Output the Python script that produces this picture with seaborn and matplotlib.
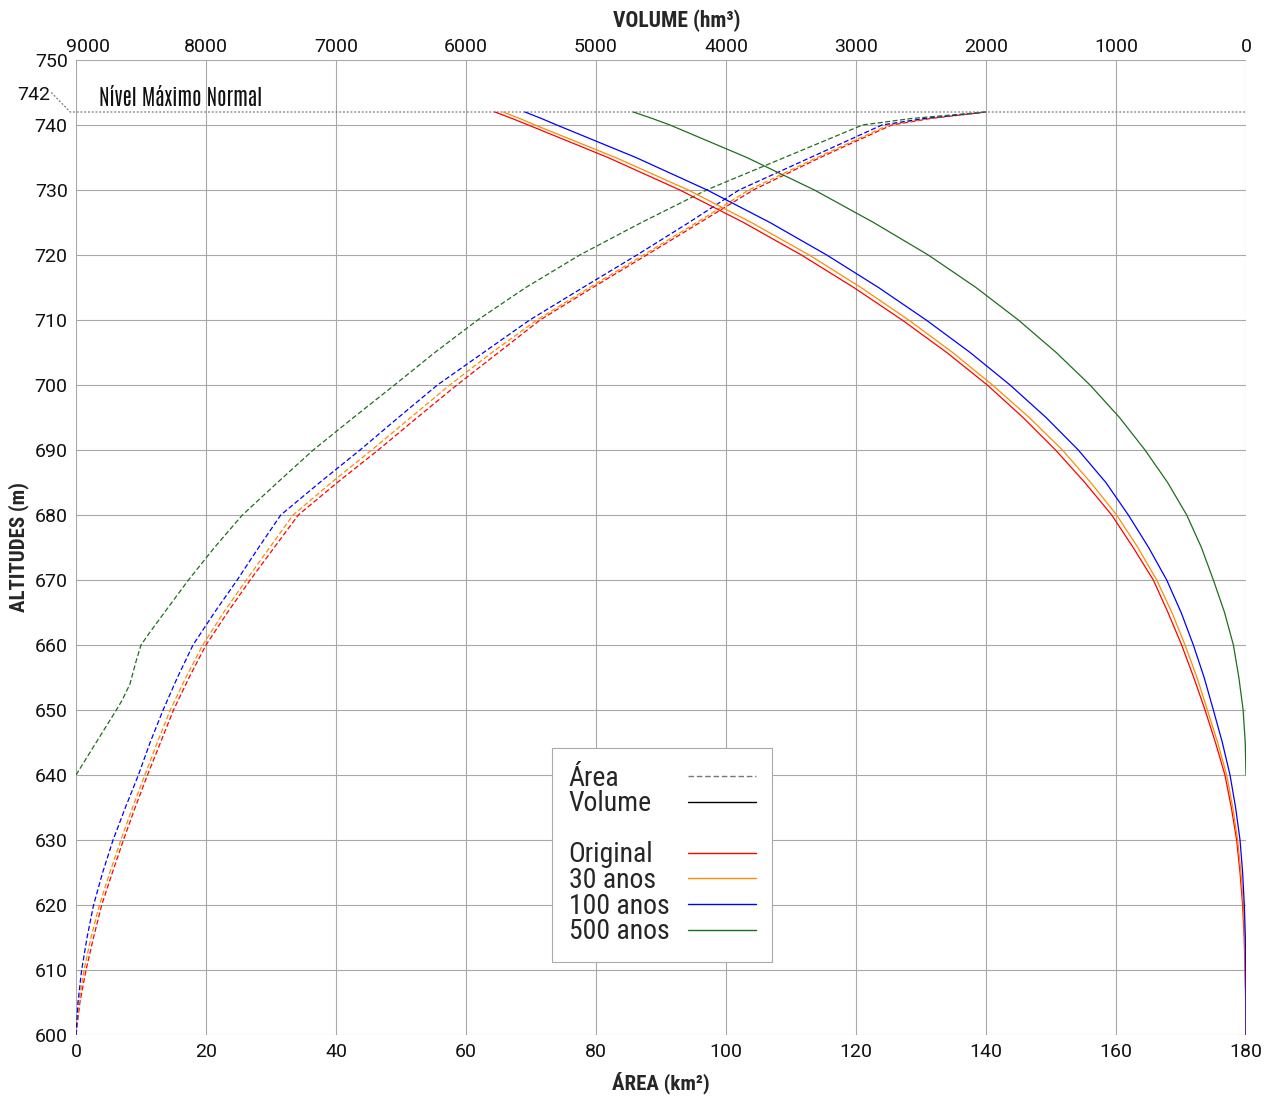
import numpy as np
import pandas as pd
import matplotlib
matplotlib.use("Agg")
import matplotlib.pyplot as plt
from matplotlib.lines import Line2D
from matplotlib.transforms import ScaledTranslation
import seaborn as sns

# ---------------- data ----------------
alt = [600, 605, 610, 615, 620, 625, 630, 635, 640, 645, 650, 655, 660, 665, 670, 675,
       680, 685, 690, 695, 700, 705, 710, 715, 720, 725, 730, 735, 740, 741, 742]

area_original = [0, 0.6, 1.54, 2.7, 3.95, 5.6, 7.3, 9.1, 11.0, 13.0, 15.0, 17.4, 20.0, 23.3, 26.8, 30.5,
                 34.2, 40.2, 46.5, 52.5, 58.6, 65.0, 71.4, 79.5, 87.8, 96.0, 104.2, 114.5, 125.5, 131.5, 140]
area_30 = [0, 0.45, 1.23, 2.3, 3.6, 5.2, 6.9, 8.7, 10.6, 12.5, 14.5, 16.9, 19.5, 22.7, 26.2, 29.8,
           33.4, 39.3, 45.5, 51.5, 57.5, 64.0, 70.9, 79.0, 87.3, 95.5, 103.5, 114.0, 125.0, 131.2, 140]
area_100 = [0, 0.3, 0.87, 1.7, 2.7, 4.1, 5.7, 7.6, 9.6, 11.4, 13.4, 15.6, 18.0, 21.3, 24.8, 28.1,
            31.5, 37.5, 43.7, 49.6, 55.6, 62.7, 69.8, 78.0, 86.3, 94.3, 102.0, 113.0, 124.0, 130.5, 140]

vol_original = [0, 2, 8, 14, 26, 46, 72, 113, 162, 235, 315, 402, 495, 600, 713, 868,
                1033, 1240, 1465, 1715, 1990, 2302, 2645, 3017, 3420, 3865, 4355, 4908, 5521, 5645, 5777]
vol_30 = [0, 1.5, 6, 11, 20, 39, 64, 102, 149, 218, 297, 377, 469, 570, 687, 832,
          995, 1195, 1412, 1668, 1950, 2257, 2595, 2962, 3360, 3805, 4290, 4850, 5469, 5587, 5713]
vol_100 = [0, 1, 2, 5, 13, 26, 46, 80, 123, 182, 251, 322, 405, 499, 610, 749,
           905, 1078, 1290, 1538, 1815, 2122, 2460, 2827, 3225, 3662, 4145, 4693, 5302, 5420, 5546]

alt_500_area = [640, 645, 650, 651.5, 654, 657.7, 660, 662, 665, 670, 675, 680, 685, 690, 695,
                700, 705, 710, 715, 720, 725, 730, 735, 740, 741, 742]
area_500 = [0, 3.1, 6.2, 7.1, 8.3, 9.3, 10.0, 11.4, 13.6, 17.3, 21.3, 25.6, 31.0, 36.5, 42.7,
            49.0, 55.2, 61.8, 69.2, 77.5, 87.0, 97.0, 109.0, 121.0, 128.5, 140]

alt_500_vol = [640, 645, 650, 655, 660, 665, 670, 675, 680, 685, 690, 695, 700, 705, 710,
               715, 720, 725, 730, 735, 740, 741, 742]
vol_500 = [0, 6, 22, 55, 97, 165, 251, 343, 456, 603, 777, 973, 1200, 1460, 1751,
           2077, 2444, 2865, 3320, 3840, 4431, 4567, 4713]

series_names = ["Original", "30 anos", "100 anos", "500 anos"]
series_colors = ["#ff0000", "#ff8c00", "#0000ff", "#1e6e1e"]

x_ticks = list(range(0, 181, 20))
v_ticks = list(range(0, 9001, 1000))
y_ticks = list(range(600, 751, 10))

# ---------------- style ----------------
sns.set_theme(style="white")
plt.rcParams["font.family"] = ["Roboto", "DejaVu Sans"]
cond = ["Roboto Condensed", "Archivo Narrow", "DejaVu Sans"]
thin = ["Antonio", "Roboto Condensed", "DejaVu Sans"]

W, H = 1274, 1097
fig = plt.figure(figsize=(W / 100, H / 100), dpi=100)
ax = fig.add_axes([76 / W, 1 - 1035 / H, 1170 / W, 975 / H])
axv = ax.twiny()

for a in (ax, axv):
    for s in a.spines.values():
        s.set_visible(False)

ax.set_xlim(0, 180)
ax.set_ylim(600, 750)
axv.set_xlim(9000, 0)

ax.set_xticks(x_ticks)
ax.set_yticks(y_ticks)
axv.set_xticks(v_ticks)
ax.tick_params(axis="both", labelsize=14, length=0, pad=6, colors="#111111")
axv.tick_params(axis="x", labelsize=14, length=0, pad=3, colors="#111111")
ax.grid(True, color="#a8a8a8", lw=0.8)
axv.grid(False)

# ---------------- area (dashed) ----------------
area_sets = [(alt, area_original), (alt, area_30), (alt, area_100), (alt_500_area, area_500)]
for (h, a_), c in zip(area_sets, series_colors):
    df = pd.DataFrame({"area": a_, "alt": h})
    sns.lineplot(data=df, x="area", y="alt", ax=ax, sort=False, estimator=None,
                 color=c, lw=0.9)
    ax.lines[-1].set_dashes((4, 2))

# ---------------- volume (solid) ----------------
vol_sets = [(alt, vol_original), (alt, vol_30), (alt, vol_100), (alt_500_vol, vol_500)]
for (h, v_), c in zip(vol_sets, series_colors):
    df = pd.DataFrame({"vol": v_, "alt": h})
    sns.lineplot(data=df, x="vol", y="alt", ax=axv, sort=False, estimator=None,
                 color=c, lw=0.9)

axv.set_ylim(600, 750)
axv.set_xlim(9000, 0)
axv.set_xticks(v_ticks)

# nudge the leftmost top label inside, as in the reference
top_ticks = axv.xaxis.get_major_ticks()
idx9000 = v_ticks.index(9000)
lab = top_ticks[idx9000].label2
lab.set_transform(lab.get_transform() + ScaledTranslation(12 / 100, 0, fig.dpi_scale_trans))

# ---------------- normal maximum level ----------------
ax.plot([-3.8, -0.9, 180], [745.0, 742, 742], ls=(0, (1.5, 1.5)), color="#777777",
        lw=0.9, clip_on=False, zorder=5)
ax.text(-4.0, 744.6, "742", ha="right", va="center", fontsize=14, color="#111111")
ax.text(3.5, 742.4, "Nível Máximo Normal", ha="left", va="bottom", fontsize=15.2,
        family=thin, color="#111111")

# ---------------- titles ----------------
ax.set_xlabel("ÁREA (km²)", fontsize=15, fontweight="bold", family=cond, labelpad=7)
axv.set_xlabel("VOLUME (hm³)", fontsize=15.5, fontweight="bold", family=cond, labelpad=8)
axv.xaxis.label.set_x((677 - 76) / 1170)
ax.set_ylabel("ALTITUDES (m)", fontsize=15, fontweight="bold", family=cond, labelpad=4)

# ---------------- legend ----------------
handles = [
    Line2D([], [], color="#777777", lw=1, dashes=(4, 2)),
    Line2D([], [], color="#000000", lw=1),
    Line2D([], [], color="none"),
] + [Line2D([], [], color=c, lw=1) for c in series_colors]
labels = ["Área", "Volume", " "] + series_names
leg_fs = 20
leg = ax.legend(handles, labels, loc="upper left",
                bbox_to_anchor=((552 - 76) / 1170, 1 - (748 - 60) / 975),
                markerfirst=False, frameon=True, fancybox=False, framealpha=1,
                edgecolor="#aaaaaa", prop={"family": cond, "size": leg_fs},
                handlelength=68 / (leg_fs * 100 / 72), labelspacing=-0.05,
                borderpad=0.6, handletextpad=1.0, borderaxespad=0)
leg.get_frame().set_linewidth(0.8)
leg.set_zorder(10)
# left-align label texts while keeping line samples in a right-hand column
try:
    for col in leg._legend_handle_box.get_children():
        col.align = "left"
        for item in col.get_children():
            item.mode = "expand"
            item.width = 187
except Exception:
    pass

fig.savefig("out.png", dpi=100)
